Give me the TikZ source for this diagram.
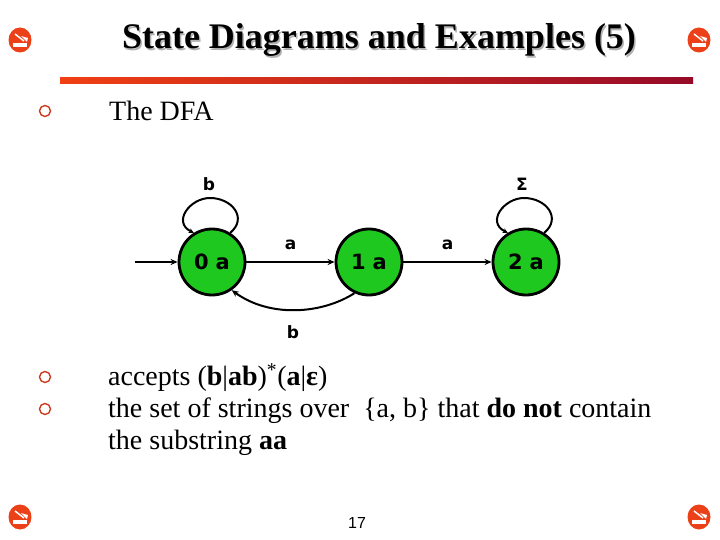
\documentclass[tikz,border=0pt]{standalone}
\usepackage{fontspec}
\setmainfont{Liberation Serif}
\newfontfamily\statefont{DejaVu Sans}
\newfontfamily\numfont{Liberation Sans}
\usetikzlibrary{arrows.meta,calc}
\definecolor{iconred}{RGB}{236,64,24}
\definecolor{barleft}{RGB}{240,64,20}
\definecolor{barright}{RGB}{150,10,40}
\definecolor{stategreen}{RGB}{30,200,30}
\definecolor{bulletc}{RGB}{200,60,30}
\tikzset{
  statenode/.style={circle, draw=black, line width=2.8pt, fill=stategreen, minimum size=66pt, inner sep=0pt, font=\statefont\bfseries\fontsize{21}{21}\selectfont},
  edgelab/.style={font=\statefont\bfseries\fontsize{17}{17}\selectfont, inner sep=0pt},
  trans/.style={line width=2pt, -{Stealth[length=7pt,width=6pt]}},
  bodytext/.style={anchor=west, inner sep=0pt, font=\fontsize{28}{31.5}\selectfont, align=left},
  bulletmark/.style={circle, draw=bulletc, line width=1.4pt, minimum size=11pt, inner sep=0pt},
}
\newcommand{\cornericon}[1]{%
  \fill[iconred] (#1) ellipse (11.5 and 12.5);
  \fill[white] ($(#1)+(-7,3)$) rectangle ($(#1)+(7,7)$);
  \draw[white, line width=1.5pt] ($(#1)+(-5,-6)$) -- ($(#1)+(4,1)$);
  \fill[white] ($(#1)+(1,-4)$) -- ($(#1)+(8,-2)$) -- ($(#1)+(7,2)$) -- cycle;
}
\begin{document}
\begin{tikzpicture}[x=1pt,y=-1pt]
\useasboundingbox (0,0) rectangle (720,540);
% corner icons
\coordinate (c1) at (20,40);
\coordinate (c2) at (699,40);
\coordinate (c3) at (20,517);
\coordinate (c4) at (699,517);
\cornericon{c1}
\cornericon{c2}
\cornericon{c3}
\cornericon{c4}
% title
\node[text=black!30, font=\bfseries\fontsize{36}{36}\selectfont, inner sep=0pt] at (380.5,41.5) {State Diagrams and Examples (5)};
\node[font=\bfseries\fontsize{36}{36}\selectfont, inner sep=0pt] (title) at (379,40) {State Diagrams and Examples (5)};
% bar
\shade[left color=barleft, right color=barright] (60,78) rectangle (693,84);
% bullets and text
\node[bulletmark] (b1) at (45,111) {};
\node[bodytext] (t1) at (109,111) {The DFA};
\node[bulletmark] (b2) at (45,377) {};
\node[bulletmark] (b3) at (45,409) {};
\node[bodytext] (t2) at (108,378) {accepts (\textbf{b}|\textbf{ab})\textsuperscript{*}(\textbf{a}|\textbf{ε})};
\node[bodytext, anchor=north west] (t3) at (108,398) {the set of strings over \ \{a, b\} that \textbf{do not} contain\\the substring \textbf{aa}};
% page number
\node[font=\numfont\fontsize{16}{16}\selectfont, inner sep=0pt] (pg) at (357,523) {17};
% states
\node[statenode] (s0) at (212,262) {0\,\,a};
\node[statenode] (s1) at (369,262) {1\,\,a};
\node[statenode] (s2) at (526,262) {2\,\,a};
\coordinate (start) at (135,262);
\draw[trans] (start) -- (s0);
\draw[trans] (s0) -- node[edgelab, above=11pt] (la1) {a} (s1);
\draw[trans] (s1) -- node[edgelab, above=11pt] (la2) {a} (s2);
\draw[trans] (s1.-115) .. controls (322,314) and (270,318) .. (s0.-55);
\node[edgelab] (lb) at (293,332) {b};
% loops
\draw[line width=2pt, {Stealth[length=5pt,width=5pt]}-] (s0.122) .. controls (172,222) and (190,198) .. (210,198) .. controls (232,198) and (248,218) .. (s0.58);
\node[edgelab] (lb0) at (209,184) {b};
\draw[line width=2pt, {Stealth[length=5pt,width=5pt]}-] (s2.122) .. controls (486,222) and (504,198) .. (524,198) .. controls (546,198) and (562,218) .. (s2.58);
\node[edgelab] (ls) at (522,184) {Σ};
\end{tikzpicture}
\end{document}
